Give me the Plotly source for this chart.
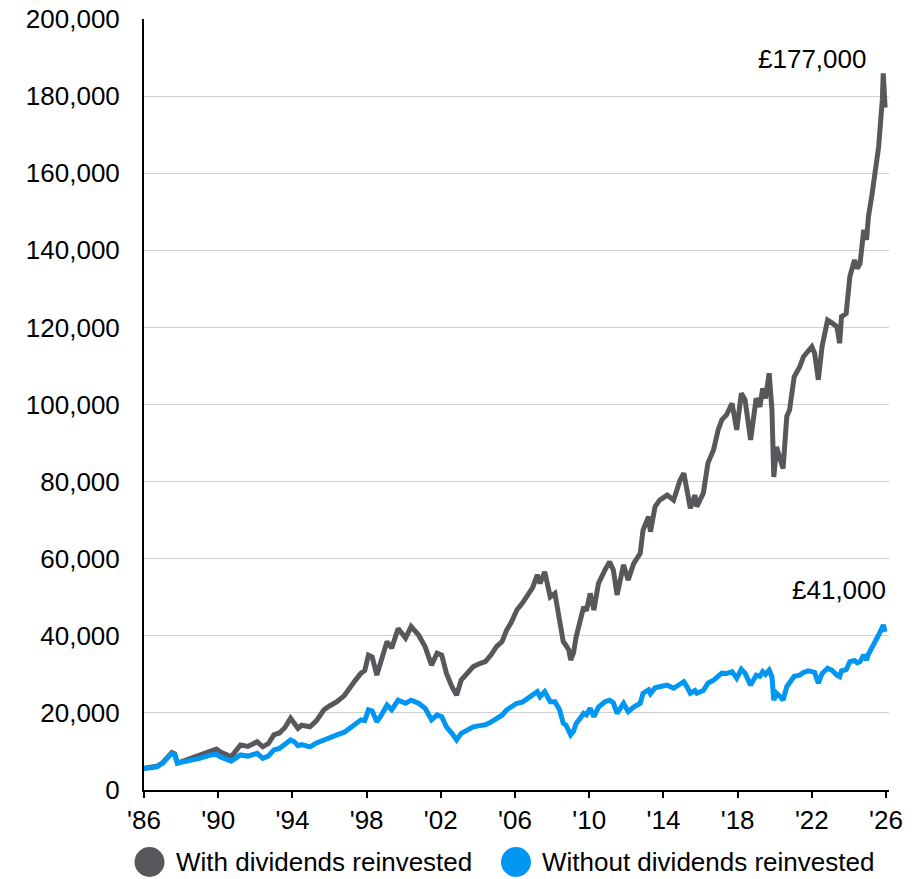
import plotly.graph_objects as go

# Time axis in decimal years
years = [
    1986.0, 1986.4, 1986.7, 1987.0, 1987.3, 1987.5, 1987.65, 1987.8, 1988.0, 1988.5,
    1989.0, 1989.6, 1989.9, 1990.1, 1990.7, 1991.2, 1991.6, 1992.1, 1992.4, 1992.7,
    1993.0, 1993.3, 1993.6, 1993.9, 1994.1, 1994.3, 1994.5, 1994.95, 1995.3, 1995.7,
    1996.0, 1996.4, 1996.8, 1997.1, 1997.4, 1997.7, 1997.9, 1998.1, 1998.3, 1998.55,
    1998.8, 1999.1, 1999.35, 1999.7, 2000.1, 2000.4, 2000.8, 2001.15, 2001.5, 2001.8,
    2002.05, 2002.3, 2002.6, 2002.85, 2003.1, 2003.4, 2003.75, 2004.1, 2004.4, 2004.7,
    2005.0, 2005.3, 2005.55, 2005.8, 2006.1, 2006.4, 2006.7, 2006.95, 2007.2, 2007.35,
    2007.6, 2007.9, 2008.15, 2008.4, 2008.6, 2008.75, 2008.9, 2009.0, 2009.15, 2009.3,
    2009.5, 2009.7, 2009.85, 2010.05, 2010.25, 2010.5, 2010.85, 2011.1, 2011.3, 2011.5,
    2011.85, 2012.1, 2012.4, 2012.75, 2012.9, 2013.2, 2013.3, 2013.55, 2013.8, 2014.2,
    2014.55, 2014.9, 2015.1, 2015.3, 2015.45, 2015.7, 2015.8, 2016.15, 2016.4, 2016.7,
    2016.95, 2017.15, 2017.4, 2017.7, 2017.95, 2018.2, 2018.4, 2018.7, 2019.0, 2019.2,
    2019.35, 2019.5, 2019.7, 2019.85, 2019.95, 2020.1, 2020.3, 2020.45, 2020.65, 2020.8,
    2021.05, 2021.35, 2021.55, 2021.8, 2022.0, 2022.15, 2022.35, 2022.55, 2022.85, 2023.1,
    2023.35, 2023.5, 2023.6, 2023.85, 2024.05, 2024.3, 2024.45, 2024.6, 2024.8, 2024.95,
    2025.05, 2025.25, 2025.4, 2025.6, 2025.8, 2025.85, 2025.95,
]

# Portfolio value in £ thousands, dividends reinvested
with_dividends = [
    5.6, 5.9, 6.2, 7.0, 8.5, 9.7, 9.4, 7.0, 7.3, 8.2,
    9.0, 10.4, 10.6, 9.9, 8.6, 11.7, 11.3, 12.5, 11.2, 12.0,
    14.3, 14.8, 16.2, 18.6, 17.5, 16.0, 16.8, 16.4, 18.0, 20.8,
    21.8, 22.9, 24.5, 26.8, 28.5, 30.3, 31.0, 35.0, 34.5, 29.8,
    33.5, 38.5, 36.8, 41.9, 39.4, 42.4, 40.2, 37.2, 32.4, 35.5,
    35.0, 30.3, 26.8, 24.6, 28.5, 30.0, 32.0, 32.8, 33.3, 35.0,
    37.2, 38.5, 41.5, 43.5, 46.7, 48.5, 51.0, 52.5, 55.8, 53.6,
    56.6, 50.1, 51.0, 44.1, 38.5, 37.5, 36.3, 33.7, 35.5, 39.8,
    43.5, 47.5, 46.5, 51.0, 46.7, 53.6, 57.1, 59.2, 57.1, 50.6,
    58.4, 54.5, 58.8, 61.4, 67.4, 70.9, 67.0, 73.5, 75.2, 76.5,
    75.2, 80.4, 82.2, 77.0, 73.1, 76.5, 73.5, 77.0, 84.8, 88.2,
    93.4, 96.0, 97.3, 100.3, 93.4, 102.9, 101.2, 90.8, 101.6, 99.4,
    104.2, 101.6, 108.1, 98.6, 81.2, 89.0, 85.6, 83.4, 96.9, 98.6,
    107.2, 109.8, 112.4, 114.1, 115.0, 113.3, 106.4, 115.0, 121.9, 121.1,
    120.2, 115.9, 122.8, 123.6, 133.2, 137.5, 135.3, 136.6, 145.3, 142.7,
    148.7, 154.7, 160.0, 166.8, 179.0, 185.9, 177.0,
]

# Portfolio value in £ thousands, price return only
without_dividends = [
    5.6, 5.8, 6.0, 7.0, 8.3, 9.5, 9.2, 7.0, 7.2, 7.6,
    8.2, 9.1, 9.3, 8.6, 7.5, 9.1, 8.8, 9.5, 8.2, 8.8,
    10.4, 10.8, 11.8, 13.0, 12.5, 11.5, 11.8, 11.2, 12.2, 13.0,
    13.8, 14.3, 15.0, 16.0, 17.0, 18.2, 18.0, 20.8, 20.5, 17.7,
    19.5, 22.0, 20.8, 23.3, 22.5, 23.3, 22.5, 21.2, 18.2, 19.5,
    19.0, 16.4, 14.7, 13.0, 14.7, 15.5, 16.4, 16.7, 16.9, 17.6,
    18.6, 19.4, 20.8, 21.6, 22.5, 22.8, 23.8, 24.3, 25.5, 24.2,
    25.5, 22.9, 22.9, 20.8, 17.3, 16.8, 15.6, 14.3, 15.2, 17.3,
    18.5, 19.9, 19.5, 21.2, 19.0, 21.5, 22.9, 23.3, 22.6, 19.9,
    22.5, 20.3, 21.5, 22.5, 25.1, 26.0, 25.0, 26.5, 26.8, 27.2,
    26.4, 27.5, 28.1, 26.5, 25.1, 25.8, 25.1, 25.8, 27.7, 28.5,
    29.6, 30.3, 30.2, 30.7, 29.0, 31.3, 30.3, 27.2, 29.8, 29.5,
    30.7, 30.0, 31.1, 29.4, 23.3, 25.1, 24.2, 23.3, 26.8, 27.7,
    29.5, 29.8, 30.5, 30.9, 30.8, 30.5, 27.7, 30.2, 31.6, 31.0,
    29.8, 29.4, 30.9, 31.2, 33.3, 33.6, 33.0, 33.3, 35.0, 33.7,
    35.2, 36.8, 38.0, 40.2, 42.2, 42.8, 41.0,
]

series_names = ["With dividends reinvested", "Without dividends reinvested"]
end_labels = ["£177,000", "£41,000"]

tick_years = [1986, 1990, 1994, 1998, 2002, 2006, 2010, 2014, 2018, 2022, 2026]
tick_labels = ["'86", "'90", "'94", "'98", "'02", "'06", "'10", "'14", "'18", "'22", "'26"]
y_ticks = [0, 20000, 40000, 60000, 80000, 100000, 120000, 140000, 160000, 180000, 200000]
y_labels = ["0", "20,000", "40,000", "60,000", "80,000", "100,000", "120,000",
            "140,000", "160,000", "180,000", "200,000"]

GREY = "#56585B"
BLUE = "#0096F2"
FONT = "Liberation Sans, Arial, sans-serif"
FS = 26

fig = go.Figure()
for vals, name, color in [(with_dividends, series_names[0], GREY),
                          (without_dividends, series_names[1], BLUE)]:
    fig.add_trace(go.Scatter(
        x=years, y=[v * 1000 for v in vals], mode="lines", name=name,
        line=dict(color=color, width=5), showlegend=False,
    ))

# End-of-series value labels
for vals, text, ys, xs in [(with_dividends, end_labels[0], 32, -17),
                           (without_dividends, end_labels[1], 25, 3)]:
    fig.add_annotation(
        x=years[-1], y=vals[-1] * 1000, text=text, showarrow=False,
        xanchor="right", yanchor="bottom", xshift=xs, yshift=ys,
        font=dict(family=FONT, size=FS, color="#000000"),
    )

# Legend: filled circles with labels below the axis
for cx, tx, color, name in [(0.0074, 0.040, GREY, series_names[0]),
                            (0.4993, 0.532, BLUE, series_names[1])]:
    fig.add_shape(type="circle", xref="paper", yref="paper",
                  xsizemode="pixel", ysizemode="pixel",
                  xanchor=cx, yanchor=-0.0934,
                  x0=-15, x1=15, y0=-15, y1=15,
                  fillcolor=color, line=dict(width=0))
    fig.add_annotation(x=tx, y=-0.0934, xref="paper", yref="paper",
                       text=name, showarrow=False, xanchor="left", yanchor="middle",
                       font=dict(family=FONT, size=FS, color="#000000"))

fig.update_layout(
    width=922, height=879,
    margin=dict(l=144, r=33, t=19, b=89, autoexpand=False),
    paper_bgcolor="white", plot_bgcolor="white",
    font=dict(family=FONT, size=FS, color="#000000"),
    showlegend=False,
    xaxis=dict(
        range=[1986, 2026.16], tickmode="array", tickvals=tick_years, ticktext=tick_labels,
        showgrid=False, zeroline=False, automargin=False,
        showline=True, linecolor="#000000", linewidth=2,
        ticks="outside", ticklen=6, tickwidth=2, tickcolor="#000000",
        tickfont=dict(family=FONT, size=FS, color="#000000"),
    ),
    yaxis=dict(
        range=[0, 200000], tickmode="array", tickvals=y_ticks, ticktext=y_labels,
        showgrid=True, gridcolor="#D0D0D0", gridwidth=1, zeroline=False, automargin=False,
        showline=True, linecolor="#000000", linewidth=2,
        ticks="", ticklabelstandoff=17,
        tickfont=dict(family=FONT, size=FS, color="#000000"),
    ),
)

fig.write_html("out.html")
